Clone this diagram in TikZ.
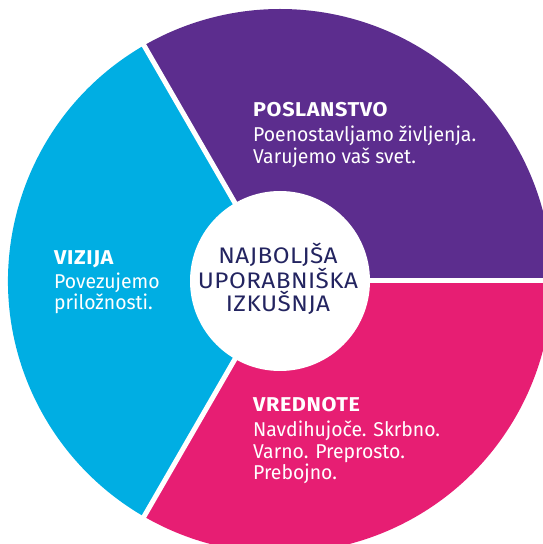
\documentclass[tikz,border=0pt]{standalone}
\usepackage{fontspec}
\setmainfont{Fira Sans}
\newfontfamily\headfont{Fira Sans}[LetterSpace=3,FakeStretch=1.08]
\newfontfamily\bodyfont{Fira Sans}[FakeStretch=0.97]
\newfontfamily\corefont{Fira Sans}[LetterSpace=2,FakeStretch=1.08]
\usetikzlibrary{calc}
\definecolor{cpurple}{RGB}{92,45,142}
\definecolor{ccyan}{RGB}{0,174,227}
\definecolor{cpink}{RGB}{231,30,115}
\definecolor{cnavy}{RGB}{35,36,96}
\tikzset{
  head/.style={anchor=base west, inner sep=0pt, text=white, font=\headfont\fontsize{20}{23}\selectfont\bfseries},
  body/.style={anchor=base west, inner sep=0pt, text=white, font=\bodyfont\fontsize{20}{23}\selectfont},
  core/.style={anchor=base, inner sep=0pt, text=cnavy, font=\corefont\fontsize{22.5}{24}\selectfont},
  gap/.style={white, line width=5pt}
}
\begin{document}
\begin{tikzpicture}[x=1pt,y=1pt]
\useasboundingbox (0,0) rectangle (543,544);
\clip (0,0) rectangle (543,544);
\coordinate (C) at (280,263);
\fill[cpurple] (C) -- ++(0:272pt) arc[start angle=0,end angle=120,radius=272pt] -- cycle;
\fill[ccyan] (C) -- ++(120:272pt) arc[start angle=120,end angle=240,radius=272pt] -- cycle;
\fill[cpink] (C) -- ++(240:272pt) arc[start angle=240,end angle=360,radius=272pt] -- cycle;
\coordinate (e1) at ($(C)+(0:290pt)$);
\coordinate (e2) at ($(C)+(120:290pt)$);
\coordinate (e3) at ($(C)+(240:290pt)$);
\draw[gap] (C) -- (e1);
\draw[gap] (C) -- (e2);
\draw[gap] (C) -- (e3);
\fill[white] (C) circle[radius=90pt];
% POSLANSTVO
\node[head] (p0) at (253,427) {POSLANSTVO};
\node[body] (p1) at (253,402) {Poenostavljamo življenja.};
\node[body] (p2) at (253,380.5) {Varujemo vaš svet.};
% VIZIJA
\node[head] (v0) at (54,279.7) {VIZIJA};
\node[body] (v1) at (54,255.7) {Povezujemo};
\node[body] (v2) at (54,234.7) {priložnosti.};
% VREDNOTE
\node[head] (r0) at (253,132.3) {VREDNOTE};
\node[body] (r1) at (253,107.3) {Navdihujoče. Skrbno.};
\node[body] (r2) at (253,85.7) {Varno. Preprosto.};
\node[body] (r3) at (253,64.7) {Prebojno.};
% centre
\node[core] (c0) at (278,280.7) {NAJBOLJŠA};
\node[core] (c1) at (278,255.7) {UPORABNIŠKA};
\node[core] (c2) at (278,232.3) {IZKUŠNJA};
\end{tikzpicture}
\end{document}
